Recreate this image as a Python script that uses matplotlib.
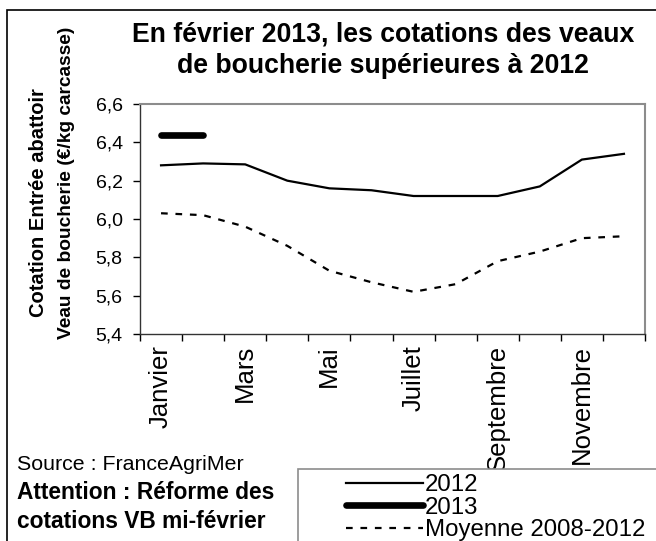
import matplotlib
matplotlib.use("Agg")
import matplotlib.pyplot as plt
from matplotlib.patches import Rectangle
from matplotlib.ticker import FixedLocator, FuncFormatter

plt.rcParams["font.family"] = ["Liberation Sans", "DejaVu Sans"]

mois = ["Janvier", "Février", "Mars", "Avril", "Mai", "Juin", "Juillet",
        "Août", "Septembre", "Octobre", "Novembre", "Décembre"]
cot_2012 = [6.28, 6.29, 6.285, 6.20, 6.16, 6.15, 6.12, 6.12, 6.12, 6.17, 6.31, 6.34]
cot_2013 = [6.44, 6.44]
moy_2008_2012 = [6.03, 6.02, 5.96, 5.86, 5.73, 5.67, 5.62, 5.66, 5.78, 5.83, 5.90, 5.91]
y_ticks = [5.4, 5.6, 5.8, 6.0, 6.2, 6.4, 6.6]

W, H = 656, 541
fig = plt.figure(figsize=(W / 100, H / 100), dpi=100)
ax = fig.add_axes([140 / W, 1 - 334 / H, (645 - 140) / W, (334 - 104) / H])

x = list(range(len(mois)))
ax.plot(x, cot_2012, color="black", lw=1.6, label="2012")
ax.plot(x[:len(cot_2013)], cot_2013, color="black", lw=4.8,
        solid_capstyle="round", label="2013")
ax.plot(x, moy_2008_2012, color="black", lw=1.6, dashes=(3, 3.5),
        label="Moyenne 2008-2012")

ax.set_xlim(-0.5, len(mois) - 0.5)
ax.set_ylim(5.4, 6.6)
ax.set_yticks(y_ticks)
ax.yaxis.set_major_formatter(FuncFormatter(lambda v, p: f"{v:.1f}".replace(".", ",")))
ax.tick_params(axis="y", direction="out", length=5, width=1, labelsize=14, pad=7.5)

ax.set_xticks(x[::2])
ax.set_xticklabels(mois[::2], rotation=90, fontsize=18.5)
ax.xaxis.set_minor_locator(FixedLocator([i - 0.5 for i in range(len(mois) + 1)]))
ax.tick_params(axis="x", which="major", length=0, pad=8)
ax.tick_params(axis="x", which="minor", direction="out", length=5, width=1)

for s in ["top", "right"]:
    ax.spines[s].set_color("#8c8c8c")
    ax.spines[s].set_linewidth(1.5)
for s in ["left", "bottom"]:
    ax.spines[s].set_color("#333333")
    ax.spines[s].set_linewidth(1)

fig.text(383 / W, 1 - 50 / H, "En février 2013, les cotations des veaux\nde boucherie supérieures à 2012",
         ha="center", va="center", fontsize=19.2, fontweight="bold", linespacing=1.25)
fig.text(39 / W, 1 - 203 / H, "Cotation Entrée abattoir", rotation=90,
         ha="center", va="center", fontsize=14.5, fontweight="bold")
fig.text(67 / W, 1 - 183 / H, "Veau de boucherie (€/kg carcasse)", rotation=90,
         ha="center", va="center", fontsize=13.8, fontweight="bold")

fig.text(17 / W, 1 - 465 / H, "Source : FranceAgriMer", ha="left", va="center", fontsize=15.4)
fig.text(17 / W, 1 - 507 / H, "Attention : Réforme des\ncotations VB mi-février",
         ha="left", va="center", fontsize=16.4, fontweight="bold", linespacing=1.28)

# cadre extérieur
fig.add_artist(Rectangle((7 / W, -0.2), 1.2, 1.2 - 10 / H, transform=fig.transFigure,
                         fill=False, edgecolor="black", lw=1.2, clip_on=False))
# cadre de la légende
fig.add_artist(Rectangle((298 / W, -0.2), 1.0, 0.2 + 1 - 469 / H, transform=fig.transFigure,
                         facecolor="white", edgecolor="#8c8c8c", lw=1.2, clip_on=False, zorder=2))
leg = fig.legend(loc="upper left", bbox_to_anchor=(346 / W, 1 - 474 / H), frameon=False,
                 fontsize=17.3, handlelength=3.2, handletextpad=0.08, labelspacing=0.03,
                 borderpad=0, borderaxespad=0)
leg.set_zorder(3)

fig.savefig("out.png", dpi=100)
